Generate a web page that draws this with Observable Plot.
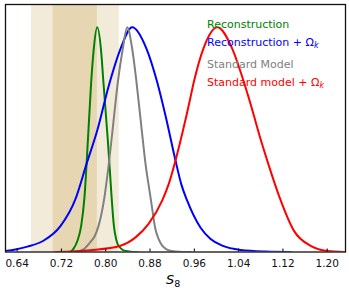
<!DOCTYPE html>
<html>
<head>
<meta charset="utf-8">
<script src="https://cdn.jsdelivr.net/npm/d3@7"></script>
<script src="https://cdn.jsdelivr.net/npm/@observablehq/plot@0.6"></script>
<style>
  body { margin: 0; background: #fff; }
  #wrap { position: relative; width: 349px; height: 296px; font-family: "DejaVu Sans", sans-serif; }
  .lg { position: absolute; left: 207px; font-size: 11px; line-height: 11px; white-space: nowrap; }
  .lg sub { font-size: 8px; vertical-align: -2px; line-height: 0; }
  #xlab { position: absolute; left: 166px; top: 273px; font-size: 13px; line-height: 13px; }
  #xlab sub { font-size: 9.5px; vertical-align: -3px; line-height: 0; font-style: normal; }
</style>
</head>
<body>
<div id="wrap"></div>
<script>
// ---- data ----
const tickValues = [0.64, 0.72, 0.80, 0.88, 0.96, 1.04, 1.12, 1.20];

// S8 prior bands (outer = 2 sigma, inner = 1 sigma)
const bandOuter = [0.666, 0.8245];
const bandInner = [0.7052, 0.7850];

// Reconstruction (green)
const reconS8 = [0.7363, 0.7417, 0.7489, 0.7556, 0.7616, 0.7683, 0.7737, 0.7784, 0.7845, 0.7918, 0.7954, 0.8000, 0.8037, 0.8070, 0.8099, 0.8146, 0.8190, 0.8231, 0.8357, 0.8574];
const reconP  = [0.000, 0.014, 0.050, 0.115, 0.243, 0.518, 0.755, 0.904, 1.000, 0.890, 0.770, 0.620, 0.500, 0.380, 0.270, 0.120, 0.055, 0.028, 0.005, 0.000];

// Reconstruction + Omega_k (blue)
const reconOkS8 = [0.6188, 0.6368, 0.6585, 0.6875, 0.7182, 0.7453, 0.7652, 0.7845, 0.8055, 0.8267, 0.8478, 0.8737, 0.8930, 0.9080, 0.9261, 0.9364, 0.9473, 0.9713, 0.9894, 1.0105, 1.0436, 1.0888, 1.1340];
const reconOkP  = [0.004, 0.011, 0.024, 0.050, 0.115, 0.235, 0.391, 0.539, 0.740, 0.904, 1.000, 0.904, 0.755, 0.606, 0.406, 0.302, 0.227, 0.108, 0.058, 0.028, 0.009, 0.002, 0.000];

// Standard Model (gray)
const stdS8 = [0.7453, 0.7598, 0.7724, 0.7800, 0.7869, 0.7965, 0.8055, 0.8122, 0.8218, 0.8308, 0.8388, 0.8478, 0.8556, 0.8652, 0.8719, 0.8791, 0.8845, 0.8890, 0.8954, 0.9020, 0.9098, 0.9200, 0.9315, 0.9532];
const stdP  = [0.000, 0.012, 0.045, 0.070, 0.115, 0.225, 0.391, 0.539, 0.755, 0.904, 1.000, 0.904, 0.755, 0.539, 0.391, 0.272, 0.183, 0.110, 0.058, 0.028, 0.012, 0.004, 0.001, 0.000];

// Standard model + Omega_k (red)
const stdOkS8 = [0.7092, 0.7724, 0.8267, 0.8538, 0.8773, 0.9021, 0.9140, 0.9261, 0.9382, 0.9460, 0.9520, 0.9592, 0.9762, 1.0015, 1.0286, 1.0496, 1.0677, 1.0752, 1.0937, 1.1141, 1.1400, 1.1702, 1.2004, 1.2334];
const stdOkP  = [0.000, 0.008, 0.028, 0.065, 0.125, 0.230, 0.304, 0.408, 0.527, 0.609, 0.676, 0.757, 0.904, 1.000, 0.904, 0.755, 0.606, 0.539, 0.391, 0.242, 0.094, 0.027, 0.004, 0.000];

const seriesNames = ["Reconstruction", "Reconstruction + Ω", "Standard Model", "Standard model + Ω"];
const seriesColors = ["#008000", "#0000ff", "#808080", "#ff0000"];

// ---- build tables ----
const toRows = (xs, ys, name) => xs.map((x, i) => ({s8: x, p: ys[i], name}));
const curves = [
  toRows(reconS8, reconP, seriesNames[0]),
  toRows(reconOkS8, reconOkP, seriesNames[1]),
  toRows(stdS8, stdP, seriesNames[2]),
  toRows(stdOkS8, stdOkP, seriesNames[3])
];
const bands = [
  {x1: bandOuter[0], x2: bandOuter[1], fill: "#f3ebda"},
  {x1: bandInner[0], x2: bandInner[1], fill: "#e6d7b2"}
];

const plot = Plot.plot({
  width: 349,
  height: 296,
  marginLeft: 5,
  marginRight: 4,
  marginTop: 4,
  marginBottom: 44.5,
  style: {fontFamily: "DejaVu Sans, sans-serif", background: "#fff"},
  x: {domain: [0.619, 1.233]},
  y: {domain: [0, 1.101], axis: null},
  marks: [
    Plot.rect(bands, {x1: "x1", x2: "x2", fill: "fill", insetTop: 1}),
    ...curves.map((rows, i) => Plot.line(rows, {
      x: "s8", y: "p", stroke: seriesColors[i], strokeWidth: 2, curve: "monotone-x", clip: true
    })),
    Plot.axisX(tickValues, {tickSize: -3, fill: "none", stroke: "#000"}),
    Plot.axisX(tickValues, {tickSize: 0, tickPadding: 7.5, tickFormat: d3.format(".2f"), fontSize: 10.5, fill: "#111", label: null}),
    Plot.frame({stroke: "#111", strokeWidth: 1.3})
  ]
});

const wrap = document.getElementById("wrap");
wrap.appendChild(plot);

const legendTops = [18.7, 37.2, 58.7, 76.7];
seriesNames.forEach((name, i) => {
  const d = document.createElement("div");
  d.className = "lg";
  d.style.top = legendTops[i] + "px";
  d.style.color = seriesColors[i];
  d.textContent = name;
  if (name.endsWith("Ω")) {
    const s = document.createElement("sub");
    const it = document.createElement("i");
    it.textContent = "k";
    s.appendChild(it);
    d.appendChild(s);
  }
  wrap.appendChild(d);
});

const xl = document.createElement("div");
xl.id = "xlab";
xl.innerHTML = "<i>S</i><sub>8</sub>";
wrap.appendChild(xl);
</script>
</body>
</html>
